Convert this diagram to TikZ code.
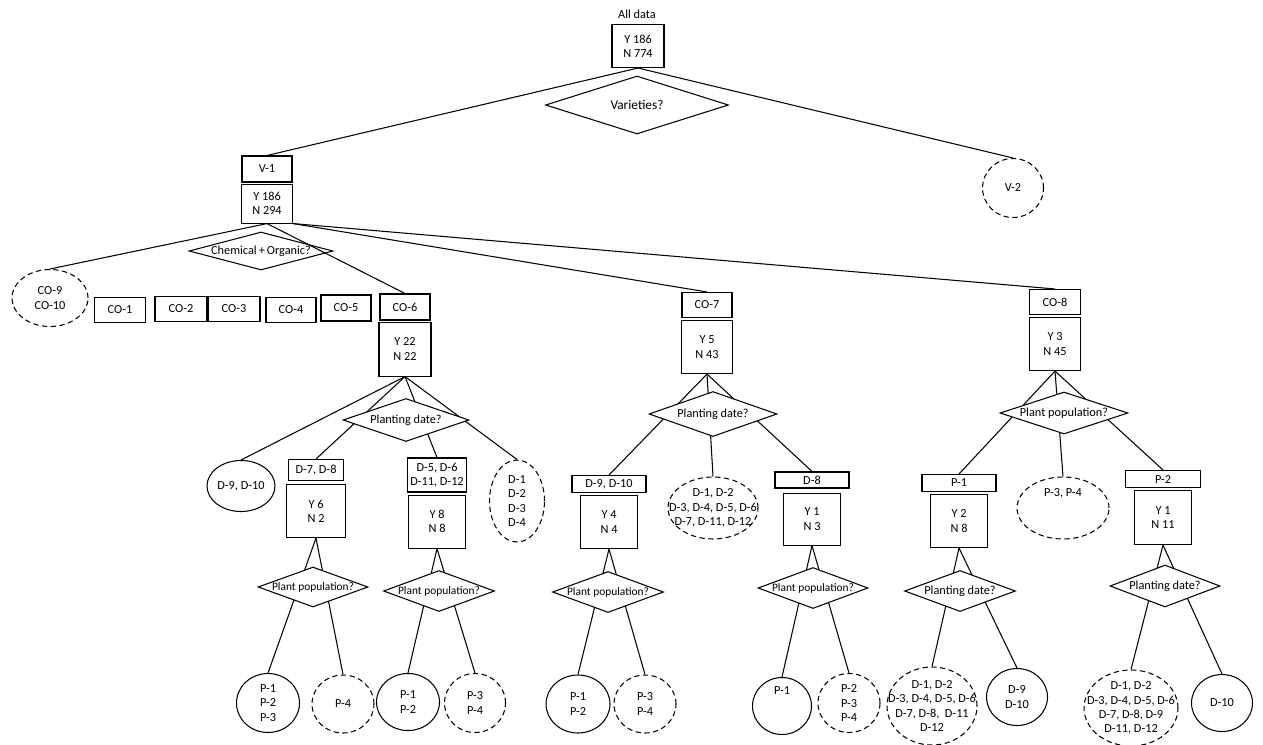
\documentclass[tikz,border=0pt]{standalone}
\usepackage{fontspec}
\setmainfont{Carlito}
\usetikzlibrary{shapes.geometric, positioning}

\begin{document}
\begin{tikzpicture}[x=0.02cm, y=-0.02cm,
      font=\fontsize{7}{8.2}\selectfont, line width=0.6pt,
      box/.style={rectangle, draw, inner sep=1pt, align=center},
      tag/.style={box, minimum width=1.0cm, minimum height=0.5cm},
      stat/.style={box, minimum width=1.14cm, minimum height=1.06cm},
      leaf/.style={ellipse, draw, inner sep=0pt},
      pending/.style={leaf, dash pattern=on 3pt off 2pt},
      quest/.style={diamond, draw, fill=white, inner sep=0pt},
      qsmall/.style={font=\fontsize{6.5}{8}\selectfont},
      qbig/.style={font=\fontsize{7.6}{9}\selectfont},
      every label/.style={align=center, inner sep=0pt}
    ]
    \useasboundingbox (0,0) rectangle (1263,744);

    \node (all) at (637,14) {All data};
    \node[box, minimum width=1.04cm, minimum height=0.86cm] (root) at (638,46) {Y 186\\N 774};
    \node[quest, fill=none, minimum width=3.66cm, minimum height=1.16cm, label={[qbig]center:Varieties?}] (qvar) at (637,105) {};

    \node[tag, minimum height=0.52cm] (v1) at (267,169) {V-1};
    \node[stat, below=0.02cm of v1, minimum width=1.02cm, minimum height=0.78cm] (v1s) {Y 186\\N 294};
    \node[pending, minimum width=1.22cm, minimum height=1.18cm, label=center:V-2] (v2) at (1013,188) {};

    \node[quest, fill=none, minimum width=2.88cm, minimum height=0.76cm, label=center:Chemical\,+\,Organic?] (qchem) at (261,251) {};
    \node[pending, minimum width=1.52cm, minimum height=1.14cm, label=center:CO-9\\CO-10] (co9) at (50,298) {};
    \node[tag, minimum width=1.02cm] (co1) at (120,310) {CO-1};
    \node[tag, minimum width=1.04cm] (co2) at (181,309) {CO-2};
    \node[tag, minimum width=1.04cm] (co3) at (234,309) {CO-3};
    \node[tag] (co4) at (291,310) {CO-4};
    \node[tag, minimum height=0.52cm] (co5) at (346,308) {CO-5};
    \node[tag, minimum height=0.52cm] (co6) at (405,307) {CO-6};
    \node[stat, below=0.02cm of co6, minimum width=1.04cm, minimum height=1.08cm] (co6s) {Y 22\\N 22};
    \node[tag] (co7) at (707,305) {CO-7};
    \node[stat, below=0.04cm of co7, minimum width=1.02cm] (co7s) {Y 5\\N 43};
    \node[tag, minimum width=1.02cm] (co8) at (1055,302) {CO-8};
    \node[stat, below=0.04cm of co8, minimum width=1.02cm] (co8s) {Y 3\\N 45};

    \node[leaf, minimum width=1.36cm, minimum height=1.02cm, label=center:{D-9, D-10}] (d6a) at (241,486) {};
    \node[box, minimum width=1.1cm, minimum height=0.42cm] (d6b) at (316,470) {D-7, D-8};
    \node[stat, below=0.06cm of d6b, minimum width=1.18cm] (d6bs) {Y 6\\N 2};
    \node[box, minimum width=1.18cm, minimum height=0.68cm] (d6c) at (437,475) {D-5, D-6\\D-11, D-12};
    \node[stat, below=0.04cm of d6c] (d6cs) {Y 8\\N 8};
    \node[pending, minimum width=1.1cm, minimum height=1.64cm, label=center:D-1\\D-2\\D-3\\D-4] (d6d) at (517,501) {};
    \node[leaf, minimum width=1.26cm, minimum height=1.18cm, label=center:P-1\\P-2\\P-3] (p6b1) at (268,703) {};
    \node[pending, minimum width=1.24cm, minimum height=1.16cm, label=center:P-4] (p6b2) at (343,704) {};
    \node[leaf, minimum width=1.26cm, minimum height=1.14cm, label=center:P-1\\P-2] (p6c1) at (408,702) {};
    \node[pending, minimum width=1.22cm, minimum height=1.18cm, label=center:P-3\\P-4] (p6c2) at (475,703) {};

    \node[box, minimum width=1.48cm, minimum height=0.34cm] (d7a) at (609,484) {D-9, D-10};
    \node[stat, below=0.04cm of d7a] (d7as) {Y 4\\N 4};
    \node[pending, minimum width=1.8cm, minimum height=1.24cm, label=center:{D-1, D-2\\D-3, D-4, D-5, D-6\\D-7, D-11, D-12}] (d7b) at (713,508) {};
    \node[box, minimum width=1.48cm, minimum height=0.32cm] (d7c) at (812,480) {D-8};
    \node[stat, below=0.08cm of d7c, minimum height=1.04cm] (d7cs) {Y 1\\N 3};
    \node[leaf, minimum width=1.28cm, minimum height=1.16cm, label=center:P-1\\P-2] (p7a1) at (578,704) {};
    \node[pending, minimum width=1.24cm, minimum height=1.16cm, label=center:P-3\\P-4] (p7a2) at (645,704) {};
    \node[leaf, minimum width=1.18cm, minimum height=1.14cm, label={[yshift=0.3cm]center:P-1}] (p7c1) at (782,706) {};
    \node[pending, minimum width=1.24cm, minimum height=1.18cm, label=center:P-2\\P-3\\P-4] (p7c2) at (849,703) {};

    \node[box, minimum width=1.48cm, minimum height=0.34cm] (p8a) at (959,483) {P-1};
    \node[stat, below=0.04cm of p8a] (p8as) {Y 2\\N 8};
    \node[pending, minimum width=1.84cm, minimum height=1.24cm, label={[yshift=0.3cm]center:{P-3, P-4}}] (p8b) at (1063,508) {};
    \node[box, minimum width=1.5cm, minimum height=0.34cm] (p8c) at (1163,479) {P-2};
    \node[stat, below=0.04cm of p8c, minimum height=1.08cm] (p8cs) {Y 1\\N 11};
    \node[pending, minimum width=1.8cm, minimum height=1.56cm, label=center:{D-1, D-2\\D-3, D-4, D-5, D-6\\D-7, D-8,\ \ D-11\\D-12}] (d8a1) at (932,706) {};
    \node[leaf, minimum width=1.22cm, minimum height=1.14cm, label=center:D-9\\D-10] (d8a2) at (1017,697) {};
    \node[pending, minimum width=1.88cm, minimum height=1.52cm, label=center:{D-1, D-2\\D-3, D-4, D-5, D-6\\D-7, D-8, D-9\\D-11, D-12}] (d8c1) at (1131,708) {};
    \node[leaf, minimum width=1.22cm, minimum height=1.14cm, label=center:D-10] (d8c2) at (1222,703) {};

    \draw (root.south) -- (v1.north);
    \draw (root.south) -- (v2.north);
    \draw (v1s.south) -- (co9.north);
    \draw (v1s.south) -- (co6.north);
    \draw (v1s.south east) -- (co7.north);
    \draw (v1s.south east) -- (co8.north);
    \draw (co6s.south) -- (d6a.north);
    \draw (co6s.south) -- (d6b.north);
    \draw (co6s.south) -- (d6c.north);
    \draw (co6s.south) -- (d6d.north);
    \draw (d6bs.south) -- (p6b1.north);
    \draw (d6bs.south) -- (p6b2.north);
    \draw (d6cs.south) -- (p6c1.north);
    \draw (d6cs.south) -- (p6c2.north);
    \draw (co7s.south) -- (d7a.north);
    \draw (co7s.south) -- (d7b.north);
    \draw (co7s.south) -- (d7c.north);
    \draw (d7as.south) -- (p7a1.north);
    \draw (d7as.south) -- (p7a2.north);
    \draw (d7cs.south) -- (p7c1.north);
    \draw (d7cs.south) -- (p7c2.north);
    \draw (co8s.south) -- (p8a.north);
    \draw (co8s.south) -- (p8b.north);
    \draw (co8s.south) -- (p8c.north);
    \draw (p8as.south) -- (d8a1.north);
    \draw (p8as.south) -- (d8a2.north);
    \draw (p8cs.south) -- (d8c1.north);
    \draw (p8cs.south) -- (d8c2.north);

    \node[quest, minimum width=2.52cm, minimum height=0.86cm, label=center:Planting date?] (q6) at (406,420) {};
    \node[quest, minimum width=2.2cm, minimum height=0.8cm, label={[qsmall]center:Plant population?}] (q6b) at (313,587) {};
    \node[quest, minimum width=2.22cm, minimum height=0.82cm, label={[qsmall]center:Plant population?}] (q6c) at (439,591) {};
    \node[quest, minimum width=2.56cm, minimum height=0.9cm, label=center:Planting date?] (q7) at (713,414) {};
    \node[quest, minimum width=2.22cm, minimum height=0.82cm, label={[qsmall]center:Plant population?}] (q7a) at (608,592) {};
    \node[quest, minimum width=2.2cm, minimum height=0.82cm, label={[qsmall]center:Plant population?}] (q7c) at (813,588) {};
    \node[quest, minimum width=2.56cm, minimum height=0.84cm, label=center:Plant population?] (q8) at (1064,413) {};
    \node[quest, minimum width=2.22cm, minimum height=0.82cm, label=center:Planting date?] (q8a) at (960,591) {};
    \node[quest, minimum width=2.2cm, minimum height=0.84cm, label=center:Planting date?] (q8c) at (1165,586) {};
  \end{tikzpicture}
\end{document}
